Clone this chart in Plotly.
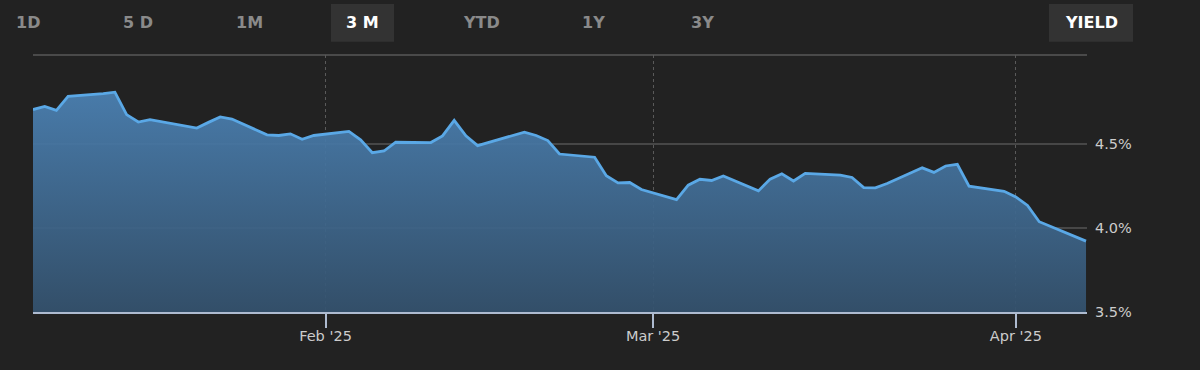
import plotly.graph_objects as go

# ---------------- data ----------------
dates = [
    "2025-01-07", "2025-01-08", "2025-01-09", "2025-01-10", "2025-01-13", "2025-01-14",
    "2025-01-15", "2025-01-16", "2025-01-17", "2025-01-21", "2025-01-22", "2025-01-23",
    "2025-01-24", "2025-01-27", "2025-01-28", "2025-01-29", "2025-01-30", "2025-01-31",
    "2025-02-03", "2025-02-04", "2025-02-05", "2025-02-06", "2025-02-07", "2025-02-10",
    "2025-02-11", "2025-02-12", "2025-02-13", "2025-02-14", "2025-02-18", "2025-02-19",
    "2025-02-20", "2025-02-21", "2025-02-24", "2025-02-25", "2025-02-26", "2025-02-27",
    "2025-02-28", "2025-03-03", "2025-03-04", "2025-03-05", "2025-03-06", "2025-03-07",
    "2025-03-10", "2025-03-11", "2025-03-12", "2025-03-13", "2025-03-14", "2025-03-17",
    "2025-03-18", "2025-03-19", "2025-03-20", "2025-03-21", "2025-03-24", "2025-03-25",
    "2025-03-26", "2025-03-27", "2025-03-28", "2025-03-31", "2025-04-01", "2025-04-02",
    "2025-04-03", "2025-04-04", "2025-04-07",
]
yields = [
    4.702, 4.721, 4.697, 4.781, 4.797, 4.805,
    4.672, 4.628, 4.642, 4.592, 4.626, 4.658,
    4.646, 4.552, 4.548, 4.558, 4.526, 4.548,
    4.572, 4.522, 4.446, 4.456, 4.508, 4.506,
    4.546, 4.638, 4.546, 4.488, 4.568, 4.548,
    4.518, 4.438, 4.419, 4.309, 4.267, 4.269,
    4.227, 4.167, 4.253, 4.288, 4.281, 4.308,
    4.219, 4.289, 4.321, 4.278, 4.323, 4.313,
    4.299, 4.239, 4.237, 4.263, 4.356, 4.329,
    4.367, 4.377, 4.247, 4.217, 4.183, 4.133,
    4.036, 4.008, 3.921,
]
range_buttons = ["1D", "5 D", "1M", "3 M", "YTD", "1Y", "3Y"]
selected_button = "3 M"
mode_button = "YIELD"
y_ticks = [3.5, 4.0, 4.5]
y_tick_labels = ["3.5%", "4.0%", "4.5%"]
x_range = ["2025-01-07", "2025-04-07 02:00"]
y_range = [3.5, 5.026]

# ---------------- layout geometry (pixels) ----------------
W, H = 1200, 370
ML, MR, MT, MB = 33, 113, 55, 58
PW, PH = W - ML - MR, H - MT - MB


def px_x(px):
    return (px - ML) / PW


def px_y(py):
    return (H - MB - py) / PH


button_centers = [28, 137.5, 249, 362, 481, 593.5, 702]
BG = "#222222"

fig = go.Figure()
fig.add_trace(go.Scatter(
    x=dates, y=yields, mode="lines",
    line=dict(color="#5aa8e6", width=2.8),
    fill="tozeroy",
    fillgradient=dict(
        type="vertical", start=3.5, stop=4.85,
        colorscale=[[0, "rgba(52,82,110,0.93)"], [1, "rgba(76,131,182,0.93)"]],
    ),
    hoverinfo="skip",
))

shapes = [
    dict(type="line", xref="paper", yref="paper", x0=0, x1=1, y0=1, y1=1,
         line=dict(color="#4a4a4a", width=2), layer="below"),
    dict(type="rect", xref="paper", yref="paper", x0=px_x(331), x1=px_x(394),
         y0=px_y(41.7), y1=px_y(4), fillcolor="#333333", line=dict(width=0)),
    dict(type="rect", xref="paper", yref="paper", x0=px_x(1049), x1=px_x(1133),
         y0=px_y(41.7), y1=px_y(4), fillcolor="#333333", line=dict(width=0)),
]

annotations = []
for label, cx in zip(range_buttons, button_centers):
    sel = label == selected_button
    annotations.append(dict(
        text=label, xref="paper", yref="paper", x=px_x(cx), y=px_y(22.8),
        xanchor="center", yanchor="middle", showarrow=False,
        font=dict(family="DejaVu Sans", size=16, weight="bold",
                  color="#ffffff" if sel else "#8a8a8a"),
    ))
annotations.append(dict(
    text=mode_button, xref="paper", yref="paper", x=px_x(1091), y=px_y(22.8),
    xanchor="center", yanchor="middle", showarrow=False,
    font=dict(family="DejaVu Sans", size=16, weight="bold", color="#ffffff"),
))

fig.update_layout(
    width=W, height=H,
    margin=dict(l=ML, r=MR, t=MT, b=MB, pad=0),
    paper_bgcolor=BG, plot_bgcolor=BG,
    showlegend=False,
    shapes=shapes, annotations=annotations,
    xaxis=dict(
        type="date", range=x_range,
        tick0="2025-01-01", dtick="M1", tickformat="%b '%y",
        showgrid=True, gridcolor="#5a5a5a", gridwidth=1, griddash="dot",
        showline=True, linecolor="#aebbd0", linewidth=2,
        ticks="outside", ticklen=14, tickwidth=2, tickcolor="#aebbd0",
        ticklabelstandoff=-4,
        tickfont=dict(family="DejaVu Sans", size=14.5, color="#cccccc"),
        zeroline=False, fixedrange=True,
    ),
    yaxis=dict(
        range=y_range, side="right",
        tickmode="array", tickvals=y_ticks, ticktext=y_tick_labels,
        showgrid=True, gridcolor="#474747", gridwidth=2,
        showline=False, ticks="", ticklabelstandoff=7,
        tickfont=dict(family="DejaVu Sans", size=14.5, color="#cccccc"),
        zeroline=False, fixedrange=True,
    ),
)

fig.write_html(
    "out.html",
    config={"displayModeBar": False},
    post_script="document.body.style.margin='0';document.body.style.overflow='hidden';"
                "document.body.style.background='#222222';",
)
